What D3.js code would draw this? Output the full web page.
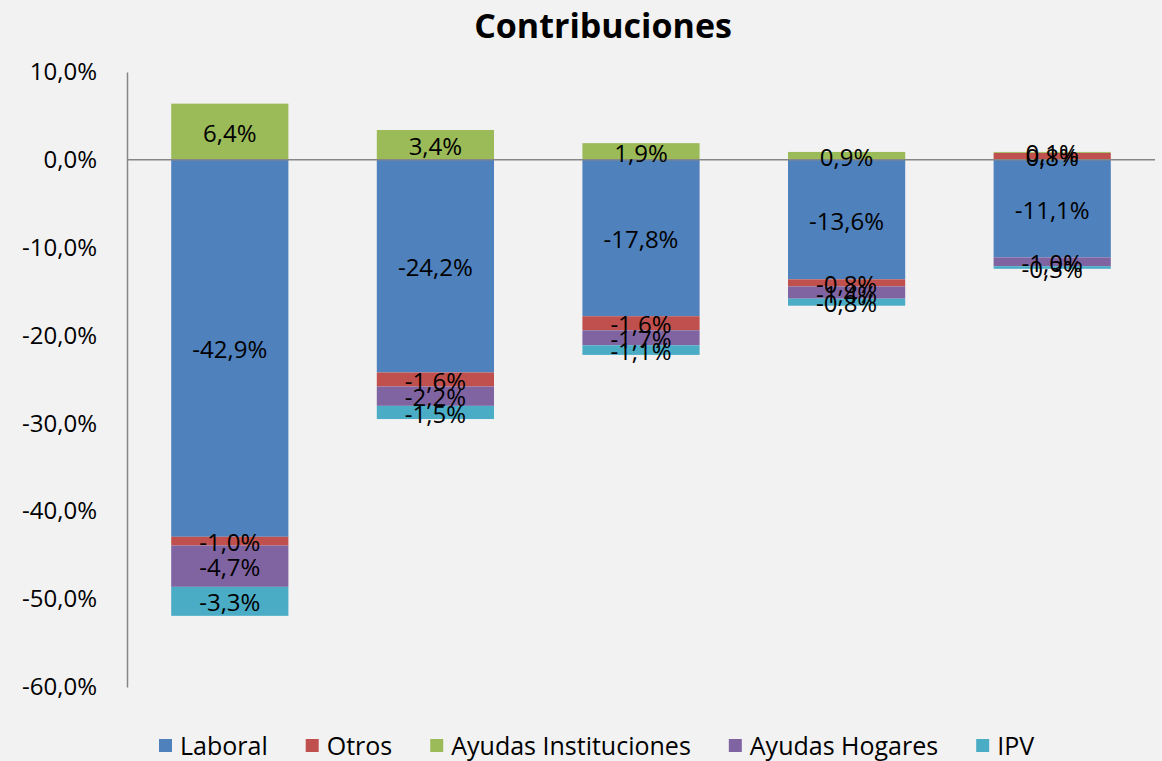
<!DOCTYPE html>
<html>
<head>
<meta charset="utf-8">
<script src="https://cdn.jsdelivr.net/npm/d3@7/dist/d3.min.js"></script>
<style>
  body { margin: 0; background: #f2f2f2; }
  svg { display: block; font-family: "Open Sans", "Noto Sans", sans-serif; }
</style>
</head>
<body>
<svg id="chart" width="1162" height="761"></svg>
<script>
// categories (no visible labels in the original chart)
var categories = ["1", "2", "3", "4", "5"];

// series values, in %
var seriesNames = ["Laboral", "Otros", "Ayudas Instituciones", "Ayudas Hogares", "IPV"];
var laboral    = [-42.9, -24.2, -17.8, -13.6, -11.1];
var otros      = [-1.0, -1.6, -1.6, -0.8, 0.8];
var ayudasInst = [6.4, 3.4, 1.9, 0.9, 0.1];
var ayudasHog  = [-4.7, -2.2, -1.7, -1.4, -1.0];
var ipv        = [-3.3, -1.5, -1.1, -0.8, -0.3];

var yTicks = [10, 0, -10, -20, -30, -40, -50, -60];
var colors = ["#4f81bd", "#c0504d", "#9bbb59", "#8064a2", "#4bacc6"];

var svg = d3.select("#chart");
var mLeft = 127, mRight = 1155, mTop = 72, mBottom = 687;

var rows = categories.map(function(c, i) {
  return {cat: c, "Laboral": laboral[i], "Otros": otros[i],
    "Ayudas Instituciones": ayudasInst[i], "Ayudas Hogares": ayudasHog[i], "IPV": ipv[i]};
});

var stack = d3.stack().keys(seriesNames).offset(d3.stackOffsetDiverging);
var layers = stack(rows);

var x = d3.scaleBand().domain(categories).range([mLeft, mRight]).paddingInner(0.43).paddingOuter(0.215);
var y = d3.scaleLinear().domain([-60, 10]).range([mBottom, mTop]);
// spanish format, plain hyphen for minus
var fmt = function(v) { return d3.format(".1f")(v).replace(".", ",").replace("\u2212", "-") + "%"; };

// title
svg.append("text")
  .attr("x", 603).attr("y", 38)
  .attr("text-anchor", "middle")
  .attr("font-size", 34).attr("font-weight", "bold")
  .text("Contribuciones");

// y axis
var yAxis = d3.axisLeft(y).tickValues(yTicks).tickSize(0).tickPadding(30).tickFormat(fmt);
var gy = svg.append("g").attr("transform", "translate(" + mLeft + ",0)").call(yAxis);
gy.select(".domain").attr("stroke", "#868686").attr("stroke-width", 1.5);
gy.selectAll("text").attr("font-size", 24).attr("fill", "#000").attr("font-family", "Open Sans");

// bars
var g = svg.append("g");
layers.forEach(function(layer, li) {
  g.selectAll(".bar" + li)
    .data(layer)
    .enter()
    .append("rect")
    .attr("x", function(d) { return x(d.data.cat); })
    .attr("y", function(d) { return y(d[1]); })
    .attr("width", x.bandwidth())
    .attr("height", function(d) { return y(d[0]) - y(d[1]); })
    .attr("fill", colors[li]);
});

// zero line
svg.append("line")
  .attr("x1", mLeft).attr("x2", mRight)
  .attr("y1", y(0)).attr("y2", y(0))
  .attr("stroke", "#868686").attr("stroke-width", 1.5);

// labels
layers.forEach(function(layer, li) {
  svg.selectAll(".lab" + li)
    .data(layer)
    .enter()
    .append("text")
    .attr("x", function(d) { return x(d.data.cat) + x.bandwidth() / 2; })
    .attr("y", function(d) { return y((d[0] + d[1]) / 2); })
    .attr("dy", "0.42em")
    .attr("text-anchor", "middle")
    .attr("font-size", 24)
    .text(function(d) { return fmt(d.data[layer.key]); });
});

// legend
var legend = svg.append("g").attr("transform", "translate(0,746)");
var lx = 159;
seriesNames.forEach(function(name, i) {
  legend.append("rect").attr("x", lx).attr("y", -7).attr("width", 13).attr("height", 13).attr("fill", colors[i]);
  var t = legend.append("text").attr("x", lx + 21).attr("y", 0).attr("dy", "0.35em")
    .attr("font-size", 25).text(name);
  lx += 21 + t.node().getComputedTextLength() + 38;
});
</script>
</body>
</html>
